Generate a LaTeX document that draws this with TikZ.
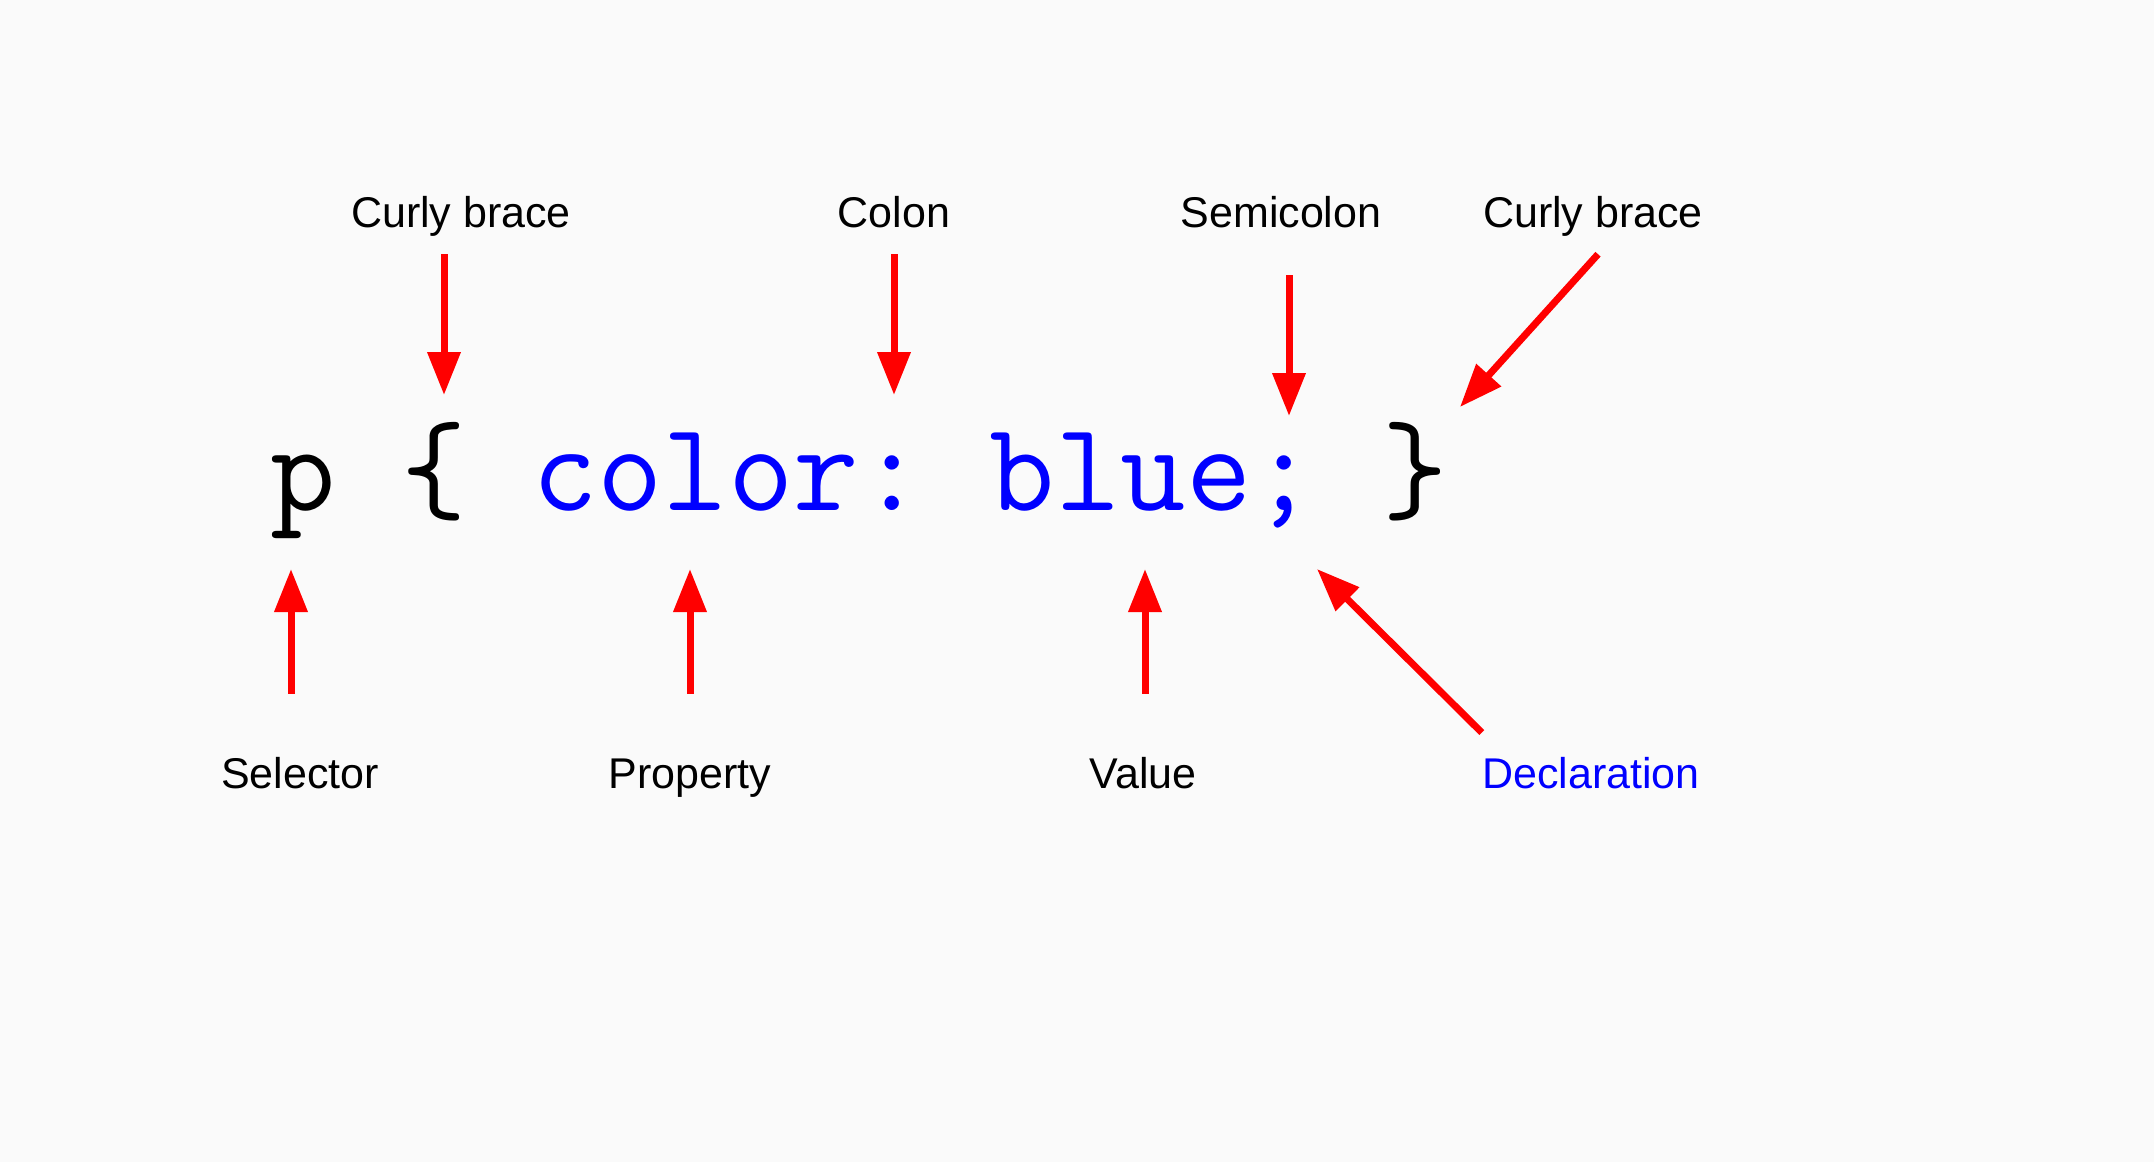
\documentclass[tikz,border=0pt]{standalone}
\usepackage{fontspec}
\setmainfont{Liberation Sans}
\usetikzlibrary{arrows.meta}

\definecolor{bgcol}{HTML}{FAFAFA}
\tikzset{
  lbl/.style={inner sep=0pt, anchor=base, text height=16pt, text depth=5.4pt,
    font=\fontsize{21.5pt}{26pt}\selectfont},
  arr/.style={red, line width=3.5pt, -{Triangle[length=21.5pt,width=16pt]}}
}

\begin{document}
\begin{tikzpicture}[x=0.5pt, y=-0.5pt]
  \fill[bgcol] (0,0) rectangle (2154,1162);

  % the rule
  \node[inner sep=0pt, anchor=base west, font=\ttfamily\fontsize{63.5pt}{66pt}\selectfont\frenchspacing]
    (code) at (270,510) {p \{ \textcolor{blue}{color: blue;} \}};

  % labels above
  \node[lbl] (cbl) at (461,227) {Curly brace};
  \node[lbl] (colon) at (894,227) {Colon};
  \node[lbl] (semi) at (1281,227) {Semicolon};
  \node[lbl] (cbr) at (1593,227) {Curly brace};

  % labels below
  \node[lbl] (sel) at (300,788) {Selector};
  \node[lbl] (prop) at (690,788) {Property};
  \node[lbl] (val) at (1143,788) {Value};
  \node[lbl, blue] (decl) at (1591,788) {Declaration};

  \coordinate (cbltip) at (444,395);
  \coordinate (colontip) at (894,395);
  \coordinate (semitip) at (1289,416);
  \coordinate (cbrtip) at (1460,407);
  \coordinate (seltip) at (291,569);
  \coordinate (proptip) at (690,569);
  \coordinate (valtip) at (1145,569);
  \coordinate (decltip) at (1317,569);

  \draw[arr] ([yshift=-8pt]cbl.south -| cbltip) -- (cbltip);
  \draw[arr] ([yshift=-8pt]colon.south -| colontip) -- (colontip);
  \draw[arr] ([yshift=-18.5pt]semi.south -| semitip) -- (semitip);
  \draw[arr] ([xshift=2.5pt, yshift=-8pt]cbr.south) -- (cbrtip);

  \draw[arr] ([yshift=31pt]sel.north -| seltip) -- (seltip);
  \draw[arr] ([yshift=31pt]prop.north -| proptip) -- (proptip);
  \draw[arr] ([yshift=31pt]val.north -| valtip) -- (valtip);
  \draw[arr] ([yshift=11.5pt]decl.north west) -- (decltip);
\end{tikzpicture}
\end{document}
